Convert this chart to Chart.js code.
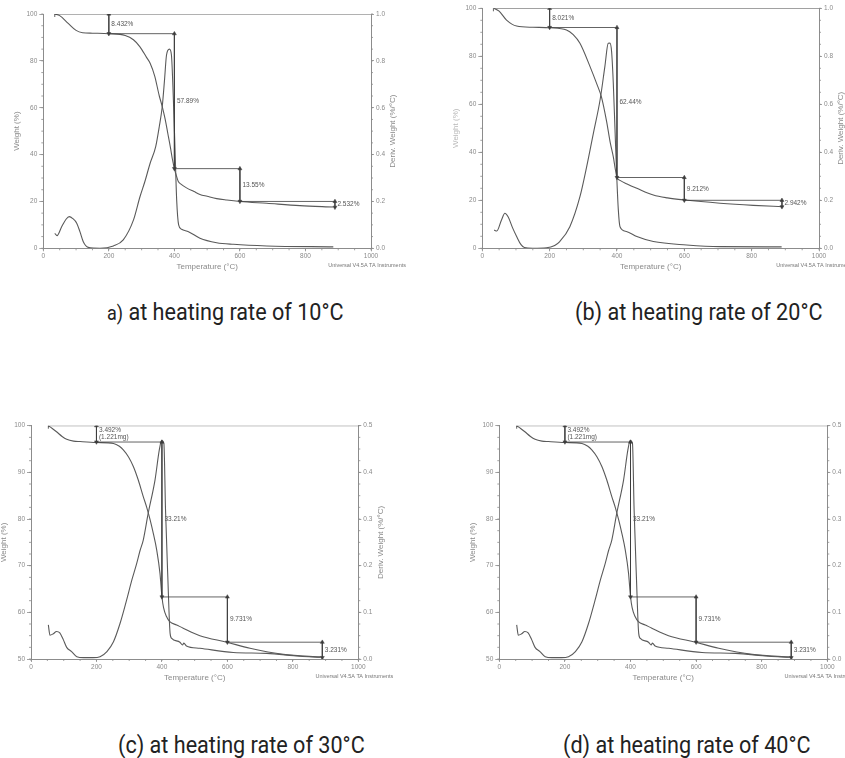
<!DOCTYPE html>
<html><head><meta charset="utf-8">
<script src="https://cdn.jsdelivr.net/npm/chart.js@4.4.1/dist/chart.umd.min.js"></script>
<style>
html,body{margin:0;padding:0;background:#fff;width:845px;height:758px;overflow:hidden;position:relative;}
.panel{position:absolute;}
.cap{position:absolute;font-family:"Liberation Sans Narrow","Roboto",sans-serif;font-size:24px;line-height:24px;color:#222;white-space:nowrap;transform:scaleX(0.9);transform-origin:0 0;}
.cap .s{font-size:20px;}
</style></head><body>
<div class="panel" style="left:0;top:0;width:420px;height:290px"><canvas id="ca"></canvas></div>
<div class="panel" style="left:420px;top:0;width:470px;height:290px"><canvas id="cb"></canvas></div>
<div class="panel" style="left:0;top:410px;width:420px;height:300px"><canvas id="cc"></canvas></div>
<div class="panel" style="left:420px;top:410px;width:470px;height:300px"><canvas id="cd"></canvas></div>
<div class="cap" style="left:107px;top:300px"><span class="s">a)</span> at heating rate of 10°C</div>
<div class="cap" style="left:575px;top:300px">(b) at heating rate of 20°C</div>
<div class="cap" style="left:118px;top:733px">(c) at heating rate of 30°C</div>
<div class="cap" style="left:563px;top:733px">(d) at heating rate of 40°C</div>
<script>
// ---- tick values ----
const xTicks = [0, 200, 400, 600, 800, 1000];
const wTicksAB = [0, 20, 40, 60, 80, 100];
const dTicksAB = [0.0, 0.2, 0.4, 0.6, 0.8, 1.0];
const wTicksCD = [50, 60, 70, 80, 90, 100];
const dTicksCD = [0.0, 0.1, 0.2, 0.3, 0.4, 0.5];

// ---- panel a: 10 °C/min ----
const a_tgaT = [35,50,76,100,120,150,200,250,275,295,315,326,340,354,363,372,380,388,394,400,406,412,420,437,460,478,500,529,560,600,682,783,885];
const a_tgaW = [100,99.3,96,93,92,91.8,91.6,90.8,89,86,81.5,79,73.5,65,60.5,55,49,43,38,34,31,28.5,27.4,25.8,24.2,23,22.2,21.2,20.6,20,19.2,18.2,17.6];
const a_dtgT = [35,42,56,70,79,90,102,112,122,137,173,214,244,275,295,310,326,343,354,363,370,376,385,391,397,402,407,413,422,443,478,529,580,682,885];
const a_dtgD = [0.064,0.054,0.092,0.125,0.135,0.127,0.107,0.07,0.028,0.004,0.0,0.01,0.036,0.12,0.22,0.285,0.363,0.434,0.52,0.605,0.72,0.825,0.85,0.825,0.633,0.42,0.206,0.1,0.081,0.071,0.043,0.024,0.017,0.01,0.006];
const a_stepT = [200, 400, 600, 890];
const a_stepLevels = [100, 91.6, 34, 20, 17.5];
const a_stepLabels = ['8.432%', '57.89%', '13.55%', '2.532%'];
const a_startT = 35;

// ---- panel b: 20 °C/min ----
const b_tgaT = [35,50,72,102,150,201,250,270,290,320,340,354,369,380,389,395,400,409,430,459,508,550,602,706,805,894];
const b_tgaW = [100,98.8,95.1,92.6,92.1,91.9,91,89,85.4,75.7,68.5,63,53,44,38.2,33,29.5,28.3,26.8,25,22.2,21,20.1,18.8,17.9,17.3];
const b_dtgT = [35,43,57,67,77,90,102,115,125,150,191,215,230,260,290,310,330,350,364,374,379,384,389,394,399,404,409,428,459,508,607,706,889];
const b_dtgD = [0.076,0.072,0.118,0.146,0.13,0.085,0.049,0.015,0.003,0.0,0.002,0.012,0.028,0.09,0.215,0.34,0.48,0.62,0.757,0.854,0.855,0.82,0.69,0.5,0.31,0.16,0.09,0.07,0.049,0.028,0.014,0.007,0.006];
const b_stepT = [200, 400, 600, 890];
const b_stepLevels = [100, 92, 29.5, 20, 17.3];
const b_stepLabels = ['8.021%', '62.44%', '9.212%', '2.942%'];
const b_startT = 33;

// ---- panel c: 30 °C/min ----
const c_tgaT = [53,65,78,95,109,130,150,201,252,270,282,298,313,328,343,354,364,374,384,394,400,405,414,424,445,465,516,598,669,771,888];
const c_tgaW = [100,99.4,98.7,97.7,97.1,96.7,96.6,96.4,96.2,95.6,94.8,93.3,91.2,88.3,84.8,82.4,79.8,76.8,73.4,68.4,63.4,61,59.1,58,57.3,56.6,55,53.6,52.3,51,50.4];
const c_dtgT = [53,58,68,78,88,99,109,124,140,160,190,211,232,252,272,292,308,323,333,343,358,379,392,399,406,411,418,425,430,455,463,467,475,516,618,720,822,883];
const c_dtgD = [0.073,0.051,0.054,0.059,0.056,0.041,0.025,0.016,0.005,0.003,0.003,0.005,0.016,0.037,0.076,0.126,0.169,0.205,0.232,0.255,0.312,0.384,0.448,0.468,0.462,0.32,0.176,0.055,0.044,0.036,0.03,0.034,0.028,0.023,0.014,0.012,0.006,0.004];
const c_stepT = [200, 400, 600, 890];
const c_stepLevels = [100, 96.5, 63.3, 53.6, 50.3];
const c_stepLabels = ['3.492%\n(1.221mg)', '33.21%', '9.731%', '3.231%'];
const c_startT = 53;

// ---- panel d: 40 °C/min ----
const d_tgaT = [53,65,78,95,109,130,150,201,252,270,282,298,313,328,343,354,364,374,384,394,400,405,414,424,445,465,516,598,669,771,888];
const d_tgaW = [100,99.4,98.7,97.7,97.1,96.7,96.6,96.4,96.2,95.6,94.8,93.3,91.2,88.3,84.8,82.4,79.8,76.8,73.4,68.4,63.4,61,59.1,58,57.3,56.6,55,53.6,52.3,51,50.4];
const d_dtgT = [53,58,68,78,88,99,109,124,140,160,190,211,232,252,272,292,308,323,333,343,358,379,392,399,406,411,418,425,430,455,463,467,475,516,618,720,822,883];
const d_dtgD = [0.073,0.051,0.054,0.059,0.056,0.041,0.025,0.016,0.005,0.003,0.003,0.005,0.016,0.037,0.076,0.126,0.169,0.205,0.232,0.255,0.312,0.384,0.448,0.468,0.462,0.32,0.176,0.055,0.044,0.036,0.03,0.034,0.028,0.023,0.014,0.012,0.006,0.004];
const d_stepT = [200, 400, 600, 890];
const d_stepLevels = [100, 96.5, 63.3, 53.6, 50.3];
const d_stepLabels = ['3.492%\n(1.221mg)', '33.21%', '9.731%', '3.231%'];
const d_startT = 53;

const CURVE = '#5a5a5a', ANN = '#3c3c3c', AXIS = '#8c8c8c', TXT = '#8a8a8a';
const FONT = 'Arial, "Liberation Sans", sans-serif';

const panels = [
  {id:'ca', tT:a_tgaT, tW:a_tgaW, dT:a_dtgT, dD:a_dtgD, sT:a_stepT, sL:a_stepLevels, sLab:a_stepLabels, start:a_startT, wT:wTicksAB, dTk:dTicksAB, wMinor:5, dMinor:0.05, lw:43.3, rw:49, top:14, xh:41.7, ltc:TXT},
  {id:'cb', tT:b_tgaT, tW:b_tgaW, dT:b_dtgT, dD:b_dtgD, sT:b_stepT, sL:b_stepLevels, sLab:b_stepLabels, start:b_startT, wT:wTicksAB, dTk:dTicksAB, wMinor:5, dMinor:0.05, lw:62.3, rw:71, top:8.3, xh:41.7, ltc:'#b8b8b8'},
  {id:'cc', tT:c_tgaT, tW:c_tgaW, dT:c_dtgT, dD:c_dtgD, sT:c_stepT, sL:c_stepLevels, sLab:c_stepLabels, start:c_startT, wT:wTicksCD, dTk:dTicksCD, wMinor:2.5, dMinor:0.025, lw:31, rw:61.7, top:15.7, xh:51, ltc:TXT},
  {id:'cd', tT:d_tgaT, tW:d_tgaW, dT:d_dtgT, dD:d_dtgD, sT:d_stepT, sL:d_stepLevels, sLab:d_stepLabels, start:d_startT, wT:wTicksCD, dTk:dTicksCD, wMinor:2.5, dMinor:0.025, lw:79.3, rw:62.7, top:15.7, xh:51, ltc:TXT}
];

const decorPlugin = {
  id: 'decor',
  afterDraw(chart) {
    const p = chart.options.plugins.decor;
    const {ctx, chartArea: ca, scales} = chart;
    const xs = scales.x, ys = scales.y, y1 = scales.y1;
    ctx.save();
    // minor ticks
    ctx.strokeStyle = AXIS; ctx.lineWidth = 0.8;
    ctx.beginPath();
    for (let v = xs.min; v <= xs.max + 1e-9; v += 50) {
      const px = xs.getPixelForValue(v);
      ctx.moveTo(px, ca.bottom); ctx.lineTo(px, ca.bottom + 2);
    }
    for (let v = ys.min; v <= ys.max + 1e-9; v += p.wMinor) {
      const py = ys.getPixelForValue(v);
      ctx.moveTo(ca.left, py); ctx.lineTo(ca.left - 2, py);
    }
    for (let v = y1.min; v <= y1.max + 1e-9; v += p.dMinor) {
      const py = y1.getPixelForValue(v);
      ctx.moveTo(ca.right, py); ctx.lineTo(ca.right + 2, py);
    }
    ctx.stroke();
    // axis titles
    const midY = (ca.top + ca.bottom) / 2, midX = (ca.left + ca.right) / 2;
    ctx.font = '8px ' + FONT;
    ctx.textAlign = 'center'; ctx.textBaseline = 'middle';
    ctx.fillStyle = TXT;
    ctx.fillText('Temperature (°C)', midX, ca.bottom + 18.7);
    ctx.save(); ctx.translate(ca.left - 27, midY); ctx.rotate(-Math.PI / 2);
    ctx.fillStyle = p.ltc; ctx.fillText('Weight (%)', 0, 0); ctx.restore();
    ctx.save(); ctx.translate(ca.right + 22, midY); ctx.rotate(-Math.PI / 2);
    ctx.fillStyle = TXT; ctx.fillText('Deriv. Weight (%/°C)', 0, 0); ctx.restore();
    ctx.font = '5.5px ' + FONT; ctx.textAlign = 'right'; ctx.fillStyle = '#777';
    ctx.fillText('Universal V4.5A TA Instruments', ca.right + 35, ca.bottom + 17.5);
    // step labels
    ctx.font = '6.5px ' + FONT; ctx.textAlign = 'left'; ctx.fillStyle = '#555';
    p.sT.forEach((t, i) => {
      const mid = (p.sL[i] + p.sL[i + 1]) / 2;
      const lines = p.sLab[i].split('\n');
      const px = xs.getPixelForValue(t) + 2.5;
      const py = ys.getPixelForValue(mid);
      lines.forEach((ln, k) => ctx.fillText(ln, px, py + (k - (lines.length - 1) / 2) * 7.5));
    });
    ctx.restore();
  }
};

function pts(xArr, yArr) { return xArr.map((x, i) => ({x: x, y: yArr[i]})); }

panels.forEach(p => {
  const ds = [];
  ds.push({data: pts(p.tT, p.tW), yAxisID: 'y', borderColor: CURVE, borderWidth: 1.1, pointRadius: 0, cubicInterpolationMode: 'monotone', order: 2});
  ds.push({data: pts(p.dT, p.dD), yAxisID: 'y1', borderColor: CURVE, borderWidth: 1.1, pointRadius: 0, cubicInterpolationMode: 'monotone', order: 2});
  // top reference line
  ds.push({data: [{x: p.start, y: p.sL[0]}, {x: 1000, y: p.sL[0]}], yAxisID: 'y', borderColor: ANN, borderWidth: 0.8,
    pointStyle: 'line', pointRadius: [3, 0], pointRotation: 90, pointBorderColor: ANN, pointBorderWidth: 0.8});
  p.sT.forEach((t, i) => {
    ds.push({data: [{x: t, y: p.sL[i]}, {x: t, y: p.sL[i + 1]}], yAxisID: 'y', borderColor: ANN, borderWidth: 0.8,
      pointStyle: 'triangle', pointRadius: 2.3, pointRotation: [0, 180], pointBackgroundColor: ANN, pointBorderColor: ANN, pointBorderWidth: 0.5});
    if (i > 0) {
      ds.push({data: [{x: p.sT[i - 1], y: p.sL[i]}, {x: t, y: p.sL[i]}], yAxisID: 'y', borderColor: ANN, borderWidth: 0.8, pointRadius: 0});
    }
  });
  const tickFont = {size: 6.5, family: FONT};
  new Chart(document.getElementById(p.id), {
    type: 'line',
    data: {datasets: ds},
    options: {
      responsive: true, maintainAspectRatio: false, animation: false,
      layout: {padding: {top: p.top, left: 0, right: 0, bottom: 0}},
      plugins: {legend: {display: false}, tooltip: {enabled: false}, decor: p},
      scales: {
        x: {type: 'linear', min: 0, max: 1000,
          afterBuildTicks: s => { s.ticks = xTicks.map(v => ({value: v})); },
          ticks: {font: tickFont, color: TXT, padding: 1, maxRotation: 0, callback: v => String(v)},
          grid: {drawOnChartArea: false, drawTicks: true, tickLength: 3, color: AXIS, lineWidth: 0.8},
          border: {color: AXIS, width: 1},
          afterFit: s => { s.height = p.xh; }},
        y: {type: 'linear', position: 'left', min: p.wT[0], max: p.wT[p.wT.length - 1],
          afterBuildTicks: s => { s.ticks = p.wT.map(v => ({value: v})); },
          ticks: {font: tickFont, color: TXT, padding: 2, callback: v => String(v)},
          grid: {drawOnChartArea: false, drawTicks: true, tickLength: 4, color: AXIS, lineWidth: 0.8},
          border: {color: AXIS, width: 1},
          afterFit: s => { s.width = p.lw; }},
        y1: {type: 'linear', position: 'right', min: p.dTk[0], max: p.dTk[p.dTk.length - 1],
          afterBuildTicks: s => { s.ticks = p.dTk.map(v => ({value: v})); },
          ticks: {font: tickFont, color: TXT, padding: 2, callback: v => Number(v).toFixed(1)},
          grid: {drawOnChartArea: false, drawTicks: true, tickLength: 3, color: AXIS, lineWidth: 0.8},
          border: {color: AXIS, width: 1},
          afterFit: s => { s.width = p.rw; }}
      }
    },
    plugins: [decorPlugin]
  });
});
</script>
</body></html>
